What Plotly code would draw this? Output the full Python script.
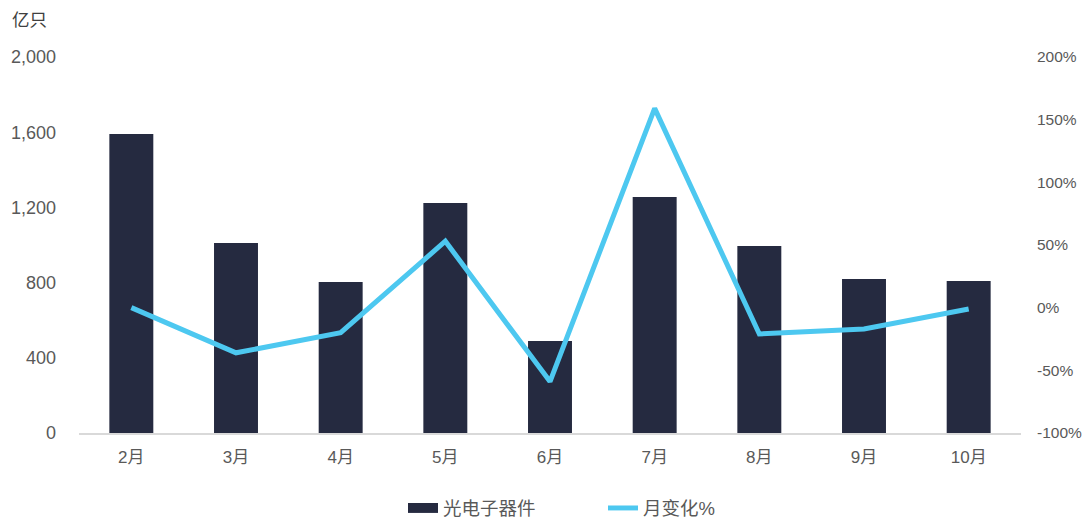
import plotly.graph_objects as go

months = ["2月", "3月", "4月", "5月", "6月", "7月", "8月", "9月", "10月"]
output = [1590, 1011, 803, 1223, 489, 1255, 995, 819, 808]
mom_pct = [0, -36, -20, 53, -59, 159, -21, -17, -1]

left_ticks = [0, 400, 800, 1200, 1600, 2000]
right_ticks = [-100, -50, 0, 50, 100, 150, 200]

FONT = "Liberation Sans, Noto Sans CJK SC, sans-serif"
GRAY = "#595959"
BAR_COLOR = "#252a40"
LINE_COLOR = "#4dc8f0"

fig = go.Figure()
fig.add_trace(go.Bar(
    x=months, y=output, name="光电子器件",
    marker=dict(color=BAR_COLOR, line=dict(width=0)),
    width=0.42, yaxis="y", showlegend=False,
))
fig.add_trace(go.Scatter(
    x=months, y=mom_pct, name="月变化%", mode="lines",
    line=dict(color=LINE_COLOR, width=5), yaxis="y2", showlegend=False,
))
# legend entries
fig.add_trace(go.Scatter(
    x=[None], y=[None], name="光电子器件", mode="lines",
    line=dict(color=BAR_COLOR, width=13), yaxis="y",
))
fig.add_trace(go.Scatter(
    x=[None], y=[None], name="月变化%", mode="lines",
    line=dict(color=LINE_COLOR, width=5), yaxis="y2",
))

fig.update_layout(
    width=1084, height=520,
    margin=dict(l=79, r=63, t=57, b=87, autoexpand=False),
    paper_bgcolor="white", plot_bgcolor="white",
    font=dict(family=FONT, color=GRAY, size=17),
    showlegend=True,
    legend=dict(orientation="h", x=(403 - 79) / 942, xanchor="left",
                y=-0.15, yanchor="top",
                font=dict(size=18.5, color=GRAY, family=FONT), traceorder="normal",
                entrywidth=155, entrywidthmode="pixels", tracegroupgap=0,
                bgcolor="rgba(0,0,0,0)"),
    xaxis=dict(showgrid=False, showline=True, linecolor="#d9d9d9", linewidth=2,
               ticks="", tickfont=dict(size=17, color=GRAY), ticklabelstandoff=8,
               fixedrange=True),
    yaxis=dict(range=[0, 2000], tickvals=left_ticks,
               ticktext=[f"{v:,}" for v in left_ticks],
               showgrid=False, zeroline=False, showline=False, ticks="",
               tickfont=dict(size=18, color=GRAY), ticklabelstandoff=22),
    yaxis2=dict(range=[-100, 200], tickvals=right_ticks,
                ticktext=[f"{v}%" for v in right_ticks],
                overlaying="y", side="right", showgrid=False, zeroline=False,
                showline=False, ticks="", tickfont=dict(size=15.5, color=GRAY),
                ticklabelstandoff=15),
)
fig.add_annotation(text="亿只", xref="paper", yref="paper",
                   x=-69/942, y=1 + 37/376, xanchor="left", yanchor="middle",
                   showarrow=False, font=dict(size=17.5, color="#404040", family=FONT))

fig.write_html("out.html", config={"displayModeBar": False},
               post_script="document.body.style.margin='0';document.body.style.overflow='hidden';")
